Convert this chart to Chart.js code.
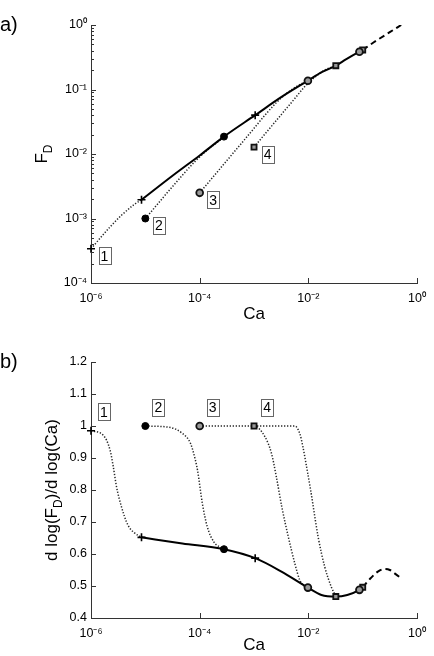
<!DOCTYPE html>
<html><head><meta charset="utf-8">
<script src="https://cdn.jsdelivr.net/npm/chart.js@4.4.1/dist/chart.umd.min.js"></script>
<style>
html,body{margin:0;padding:0;background:#fff;}
#wrap{position:relative;width:434px;height:656px;overflow:hidden;}
canvas{position:absolute;left:0;}
#ca{top:0}
#cb{top:330px}
</style></head><body>
<div id="wrap"><canvas id="ca" width="434" height="330"></canvas><canvas id="cb" width="434" height="326"></canvas></div>
<script>
// ---------- tick labels ----------
const xTickValues = [1e-6, 1e-4, 1e-2, 1];
const xTickLabels = ['10⁻⁶', '10⁻⁴', '10⁻²', '10⁰'];
const aTickValues = [1e-4, 1e-3, 1e-2, 1e-1, 1];
const aTickLabels = ['10⁻⁴', '10⁻³', '10⁻²', '10⁻¹', '10⁰'];
const bTickValues = [0.4, 0.5, 0.6, 0.7, 0.8, 0.9, 1.0, 1.1, 1.2];
const bTickLabels = ['0.4', '0.5', '0.6', '0.7', '0.8', '0.9', '1', '1.1', '1.2'];
const curveLabels = ['1', '2', '3', '4'];

// ---------- panel a: F_D vs Ca ----------
const aSolidCa = [8.5e-6, 3.16e-5, 1e-4, 2.8e-4, 1.05e-3, 3.16e-3, 9.8e-3, 1.8e-2, 3.2e-2, 5e-2, 8.7e-2, 0.1];
const aSolidF  = [1.95e-3, 4.6e-3, 9.5e-3, 0.0186, 0.04, 0.076, 0.137, 0.187, 0.234, 0.295, 0.385, 0.41];
const aDashCa = [0.1, 0.16, 0.32, 0.51];
const aDashF  = [0.41, 0.54, 0.78, 1.0];
const a1Ca = [1e-6, 2.24e-6, 3.63e-6, 6.31e-6, 8.5e-6];
const a1F  = [3.4e-4, 7.4e-4, 1.12e-3, 1.66e-3, 1.95e-3];
const a2Ca = [1e-5, 4.79e-5, 8.32e-5, 1.38e-4, 2.4e-4, 2.8e-4];
const a2F  = [1e-3, 4.68e-3, 7.76e-3, 0.0115, 0.0166, 0.0186];
const a3Ca = [1e-4, 3.16e-4, 1e-3, 1.58e-3, 2.57e-3, 4.27e-3, 6.92e-3, 9.8e-3];
const a3F  = [2.5e-3, 7.9e-3, 0.025, 0.0398, 0.0624, 0.0912, 0.119, 0.137];
const a4Ca = [1e-3, 3.16e-3, 5.62e-3, 8.5e-3, 1.23e-2, 1.51e-2, 2e-2, 3.2e-2];
const a4F  = [0.0128, 0.0407, 0.0724, 0.11, 0.148, 0.17, 0.2, 0.234];

// ---------- panel b: d log(F_D)/d log(Ca) ----------
const bSolidCa = [8.5e-6, 4.8e-5, 2.8e-4, 1.05e-3, 3.2e-3, 9.8e-3, 1.74e-2, 3.2e-2, 5.2e-2, 8.7e-2, 0.1];
const bSolidS  = [0.652, 0.633, 0.615, 0.587, 0.545, 0.495, 0.472, 0.467, 0.472, 0.488, 0.496];
const bDashCa = [0.1, 0.141, 0.19, 0.251, 0.316, 0.398, 0.513];
const bDashS  = [0.496, 0.525, 0.545, 0.553, 0.55, 0.538, 0.524];
const b1Ca = [1e-6, 1.66e-6, 2.24e-6, 2.57e-6, 2.95e-6, 3.63e-6, 4.79e-6, 6.31e-6, 8.5e-6];
const b1S  = [0.985, 0.972, 0.925, 0.873, 0.81, 0.748, 0.69, 0.666, 0.652];
const b2Ca = [1e-5, 2.75e-5, 4.79e-5, 6.76e-5, 8.32e-5, 9.12e-5, 1.12e-4, 1.38e-4, 1.82e-4, 2.4e-4, 2.8e-4];
const b2S  = [1.0, 0.996, 0.977, 0.946, 0.894, 0.862, 0.758, 0.685, 0.638, 0.621, 0.615];
const b3Ca = [1e-4, 3.16e-4, 1e-3, 1.58e-3, 2.09e-3, 2.57e-3, 3.24e-3, 4.27e-3, 5.62e-3, 6.92e-3, 7.94e-3, 9.8e-3];
const b3S  = [1.0, 1.0, 1.0, 0.967, 0.915, 0.842, 0.748, 0.654, 0.571, 0.519, 0.503, 0.495];
const b4Ca = [1e-3, 3.16e-3, 5.62e-3, 6.92e-3, 7.94e-3, 9.33e-3, 1.1e-2, 1.23e-2, 1.51e-2, 2e-2, 2.63e-2, 3.2e-2];
const b4S  = [1.0, 1.0, 1.0, 0.977, 0.935, 0.87, 0.80, 0.748, 0.654, 0.56, 0.498, 0.467];

// ---------- markers (start points of curves 1-4 and marks on the solid curve) ----------
const startCa = [1e-6, 1e-5, 1e-4, 1e-3];
const aStartF = [3.4e-4, 1e-3, 2.5e-3, 0.0128];
const bStartS = [0.985, 1.0, 1.0, 1.0];
const crossCa = [8.5e-6, 1.05e-3];   const aCrossF = [1.95e-3, 0.04];   const bCrossS = [0.652, 0.587];
const dotCa = [2.8e-4];              const aDotF = [0.0186];            const bDotS = [0.615];
const circleCa = [9.8e-3, 8.7e-2];   const aCircleF = [0.137, 0.385];   const bCircleS = [0.495, 0.488];
const squareCa = [3.2e-2, 0.1];      const aSquareF = [0.234, 0.41];    const bSquareS = [0.467, 0.496];

// ---------- helpers ----------
const FONT = "'Liberation Sans', Arial, Helvetica, sans-serif";
const zip = (xs, ys) => xs.map((x, i) => ({x: x, y: ys[i]}));

function lineDs(xs, ys, kind) {
  const base = {data: zip(xs, ys), showLine: true, pointRadius: 0, fill: false,
    cubicInterpolationMode: 'monotone'};
  if (kind === 'solid') return Object.assign(base, {borderColor: '#000', borderWidth: 2, order: 1});
  if (kind === 'dash') return Object.assign(base, {borderColor: '#000', borderWidth: 2, borderDash: [6, 4], order: 1});
  return Object.assign(base, {borderColor: '#262626', borderWidth: 1.5, borderDash: [1.3, 1.7], order: 2});
}
function markerDs(xs, ys, style) {
  const d = {data: zip(xs, ys), showLine: false, clip: false, order: 0, pointHoverRadius: 0};
  if (style === 'cross') Object.assign(d, {pointStyle: 'cross', pointRadius: 4, borderColor: '#000', pointBorderWidth: 1.6});
  if (style === 'dot') Object.assign(d, {pointStyle: 'circle', pointRadius: 3.5, pointBackgroundColor: '#000', borderColor: '#000', pointBorderWidth: 1});
  if (style === 'circle') Object.assign(d, {pointStyle: 'circle', pointRadius: 3.4, pointBackgroundColor: '#999', borderColor: '#111', pointBorderWidth: 1.8});
  if (style === 'square') Object.assign(d, {pointStyle: 'rect', pointRadius: 3.6, pointBackgroundColor: '#999', borderColor: '#111', pointBorderWidth: 1.8});
  return d;
}

// plugin: inward ticks, boxed curve labels, rotated y title, panel letter
const decor = {
  id: 'decor',
  afterDatasetsDraw(chart, args, o) {
    const ctx = chart.ctx, xs = chart.scales.x, ys = chart.scales.y, ca = chart.chartArea;
    ctx.save();
    ctx.strokeStyle = '#333'; ctx.lineWidth = 1;
    ctx.beginPath();
    o.xMajor.forEach(v => { const p = Math.round(xs.getPixelForValue(v)) + 0.5; ctx.moveTo(p, ca.bottom); ctx.lineTo(p, ca.bottom - 5); });
    o.yMajor.forEach(v => { const p = Math.round(ys.getPixelForValue(v)) + 0.5; ctx.moveTo(ca.left, p); ctx.lineTo(ca.left + 5, p); });
    o.yMinor.forEach(v => { const p = Math.round(ys.getPixelForValue(v)) + 0.5; ctx.moveTo(ca.left, p); ctx.lineTo(ca.left + 3, p); });
    ctx.stroke();

    // boxed curve labels next to start markers
    ctx.font = '14px ' + FONT; ctx.textAlign = 'center'; ctx.textBaseline = 'middle';
    o.labelX.forEach((v, i) => {
      const cx = xs.getPixelForValue(v) + o.dx, cy = ys.getPixelForValue(o.labelY[i]) + o.dy;
      ctx.fillStyle = '#fff'; ctx.fillRect(cx - 6, cy - 8.5, 12, 17);
      ctx.strokeStyle = '#666'; ctx.lineWidth = 1;
      ctx.strokeRect(Math.round(cx - 6) + 0.5, Math.round(cy - 8.5) + 0.5, 12, 17);
      ctx.fillStyle = '#000'; ctx.fillText(o.labels[i], cx, cy + 1);
    });

    // rotated y-axis title with subscript
    ctx.translate(o.titleX, (ca.top + ca.bottom) / 2);
    ctx.rotate(-Math.PI / 2);
    ctx.textAlign = 'left'; ctx.textBaseline = 'alphabetic'; ctx.fillStyle = '#000';
    const big = '17px ' + FONT, small = '12px ' + FONT;
    let w = 0;
    o.title.forEach(p => { ctx.font = p[1] ? small : big; w += ctx.measureText(p[0]).width; });
    let x = -w / 2;
    o.title.forEach(p => { ctx.font = p[1] ? small : big; ctx.fillText(p[0], x, p[1] ? 5 : 0); x += ctx.measureText(p[0]).width; });
    ctx.restore();

    ctx.save();
    ctx.font = '20px ' + FONT; ctx.fillStyle = '#000'; ctx.textAlign = 'left'; ctx.textBaseline = 'alphabetic';
    ctx.fillText(o.letter, 0, o.letterY);
    ctx.restore();
  }
};

function minorLog(lo, hi) {
  const out = [];
  for (let e = lo; e < hi; e++) for (let m = 2; m <= 9; m++) out.push(m * Math.pow(10, e));
  return out;
}

function xScale(h, titlePad) {
  return {
    type: 'logarithmic', min: 1e-6, max: 1,
    afterBuildTicks: s => { s.ticks = xTickValues.map(v => ({value: v})); },
    afterFit: s => { s.height = h; },
    grid: {display: false, drawTicks: false},
    border: {display: true, color: '#333', width: 1},
    ticks: {autoSkip: false, maxRotation: 0, padding: 8, color: '#000', font: {size: 12.5, family: FONT},
      callback: (v, i) => xTickLabels[i]},
    title: {display: true, text: 'Ca', color: '#000', font: {size: 17, family: FONT}, padding: {top: 0, bottom: titlePad}}
  };
}

const common = (padTop, xh, titlePad) => ({
  responsive: false, animation: false, devicePixelRatio: 1,
  layout: {padding: {left: 0, right: 14, top: padTop, bottom: 0}},
  events: [],
  plugins: {legend: {display: false}, tooltip: {enabled: false}},
  scales: {x: xScale(xh, titlePad)}
});

// ---------- chart a ----------
const optA = common(25, 47, 5);
optA.scales.y = {
  type: 'logarithmic', min: 1e-4, max: 1,
  afterBuildTicks: s => { s.ticks = aTickValues.map(v => ({value: v})); },
  afterFit: s => { s.width = 91; },
  grid: {display: false, drawTicks: false},
  border: {display: true, color: '#333', width: 1},
  ticks: {autoSkip: false, padding: 4, color: '#000', font: {size: 12.5, family: FONT}, callback: (v, i) => aTickLabels[i]}
};
optA.plugins.decor = {
  xMajor: xTickValues, yMajor: aTickValues, yMinor: minorLog(-4, 0),
  labelX: startCa, labelY: aStartF, labels: curveLabels, dx: 13.5, dy: 7,
  titleX: 47, title: [['F', 0], ['D', 1]], letter: 'a)', letterY: 31
};
new Chart(document.getElementById('ca'), {
  type: 'scatter',
  data: {datasets: [
    markerDs([startCa[0]].concat(crossCa), [aStartF[0]].concat(aCrossF), 'cross'),
    markerDs([startCa[1]].concat(dotCa), [aStartF[1]].concat(aDotF), 'dot'),
    markerDs([startCa[2]].concat(circleCa), [aStartF[2]].concat(aCircleF), 'circle'),
    markerDs([startCa[3]].concat(squareCa), [aStartF[3]].concat(aSquareF), 'square'),
    lineDs(aSolidCa, aSolidF, 'solid'),
    lineDs(aDashCa, aDashF, 'dash'),
    lineDs(a1Ca, a1F, 'dot'),
    lineDs(a2Ca, a2F, 'dot'),
    lineDs(a3Ca, a3F, 'dot'),
    lineDs(a4Ca, a4F, 'dot')
  ]},
  options: optA,
  plugins: [decor]
});

// ---------- chart b ----------
const optB = common(32, 38, 0);
optB.scales.y = {
  type: 'linear', min: 0.4, max: 1.2,
  afterBuildTicks: s => { s.ticks = bTickValues.map(v => ({value: v})); },
  afterFit: s => { s.width = 91; },
  grid: {display: false, drawTicks: false},
  border: {display: true, color: '#333', width: 1},
  ticks: {autoSkip: false, padding: 4, color: '#000', font: {size: 12.5, family: FONT}, callback: (v, i) => bTickLabels[i]}
};
optB.plugins.decor = {
  xMajor: xTickValues, yMajor: bTickValues, yMinor: [],
  labelX: startCa, labelY: bStartS, labels: curveLabels, dx: 13, dy: -19,
  titleX: 57, title: [['d log(F', 0], ['D', 1], [')/d log(Ca)', 0]], letter: 'b)', letterY: 38
};
new Chart(document.getElementById('cb'), {
  type: 'scatter',
  data: {datasets: [
    markerDs([startCa[0]].concat(crossCa), [bStartS[0]].concat(bCrossS), 'cross'),
    markerDs([startCa[1]].concat(dotCa), [bStartS[1]].concat(bDotS), 'dot'),
    markerDs([startCa[2]].concat(circleCa), [bStartS[2]].concat(bCircleS), 'circle'),
    markerDs([startCa[3]].concat(squareCa), [bStartS[3]].concat(bSquareS), 'square'),
    lineDs(bSolidCa, bSolidS, 'solid'),
    lineDs(bDashCa, bDashS, 'dash'),
    lineDs(b1Ca, b1S, 'dot'),
    lineDs(b2Ca, b2S, 'dot'),
    lineDs(b3Ca, b3S, 'dot'),
    lineDs(b4Ca, b4S, 'dot')
  ]},
  options: optB,
  plugins: [decor]
});
</script>
</body></html>
